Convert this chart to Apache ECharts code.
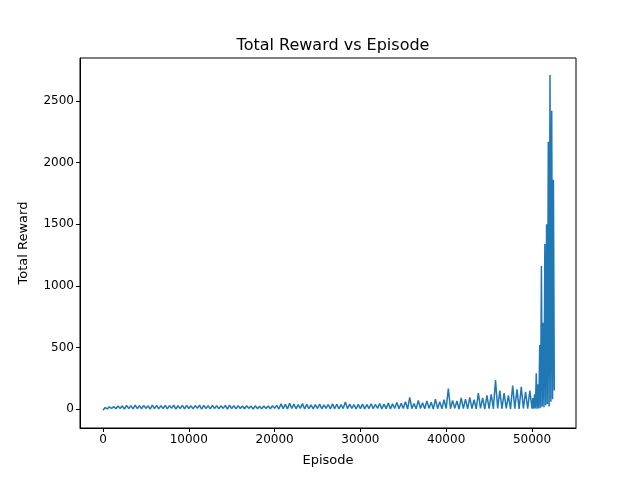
<!DOCTYPE html>
<html><head><meta charset="utf-8">
<script src="https://cdn.jsdelivr.net/npm/echarts@6/dist/echarts.min.js"></script>
<style>html,body{margin:0;padding:0;background:#fff}#c{width:640px;height:480px}</style>
</head><body><div id="c"></div>
<script>
// Band section (0..49750, every 250 episodes): troughs at even steps, peaks at odd steps
const bandLows = [-10,1,4,2,5,0,3,1,4,2,5,0,3,1,4,2,5,0,3,1,4,2,5,0,3,1,4,2,5,0,3,1,4,2,5,0,3,1,4,2,5,0,3,1,4,2,5,0,3,1,4,2,5,0,3,1,4,2,5,0,3,1,4,2,5,0,3,1,4,2,5,0,3,1,4,2,5,0,3,1,4,2,5,0,3,1,4,2,5,0,3,1,4,2,5,0,3,1,4,2];
const bandHighs = [12,18,20,24,
 26,29,27,31,28,30,26,32,29,27,30,28,31,27,29,30,26,28,32,29,27,30,28,26,29,31,27,28,25,27,24,26,23,25,24,27,
 30,42,38,46,40,35,44,38,33,36,40,34,37,42,39,36,58,40,35,38,41,37,43,39,45,40,48,42,52,47,
 60,95,45,70,50,65,55,80,60,75,165,70,65,90,80,95,75,130,90,110,120,235,150,130,110,190,160,180,140,150];
// Final section (every 100 episodes)
const tailEpisodes = [50000,50100,50200,50300,50400,50500,50600,50700,50800,50900,51000,51100,51200,51300,51400,51500,51600,51700,51800,51900,52000,52100,52200,52300,52400,52500,52600];
const tailRewards = [3,90,2,120,5,290,3,200,4,520,10,1160,20,700,15,1340,30,1500,40,2170,20,2710,60,2420,80,1860,150];
const xTicks = [0,10000,20000,30000,40000,50000];
const yTicks = [0,500,1000,1500,2000,2500];
const data = [];
for (let i=0;i<bandLows.length;i++){ data.push([i*500,bandLows[i]]); data.push([i*500+250,bandHighs[i]]); }
tailEpisodes.forEach((e,i)=>data.push([e,tailRewards[i]]));
const font = 'DejaVu Sans';
const chart = echarts.init(document.getElementById('c'));
chart.setOption({
  animation:false,
  title:{text:'Total Reward vs Episode',left:328,textAlign:'center',top:33,textStyle:{fontFamily:font,fontSize:16,fontWeight:'normal',color:'#000'}},
  grid:{left:80,right:64,top:58,bottom:52,show:true,borderColor:'#000',borderWidth:1},
  xAxis:{type:'value',min:-2680,max:55130,name:'Episode',nameLocation:'middle',nameGap:26,
    nameTextStyle:{fontFamily:font,fontSize:13,color:'#000'},
    axisLine:{show:true,onZero:false,lineStyle:{color:'#000'}},splitLine:{show:false},
    axisTick:{show:true,inside:false,length:4,lineStyle:{color:'#000'},customValues:xTicks},
    axisLabel:{fontFamily:font,fontSize:12,color:'#000',customValues:xTicks,margin:6,formatter:v=>String(v)}},
  yAxis:{type:'value',min:-154,max:2849,name:'Total Reward',nameLocation:'middle',nameGap:50,
    nameTextStyle:{fontFamily:font,fontSize:13,color:'#000'},
    axisLine:{show:true,onZero:false,lineStyle:{color:'#000'}},splitLine:{show:false},
    axisTick:{show:true,inside:false,length:4,lineStyle:{color:'#000'},customValues:yTicks},
    axisLabel:{fontFamily:font,fontSize:12,color:'#000',customValues:yTicks,margin:6,formatter:v=>String(v)}},
  series:[{type:'line',data:data,showSymbol:false,
    lineStyle:{color:'#1f77b4',width:1.5},itemStyle:{color:'#1f77b4'}}]
});
</script></body></html>
